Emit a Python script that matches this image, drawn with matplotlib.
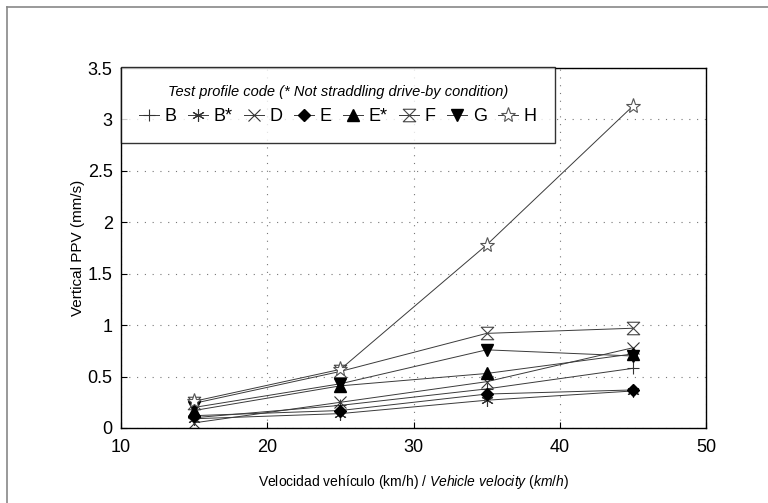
import matplotlib.pyplot as plt
from matplotlib.path import Path
from matplotlib.lines import Line2D

plt.rcParams["font.family"] = ["Liberation Sans", "DejaVu Sans"]
plt.rcParams["mathtext.fontset"] = "custom"
plt.rcParams["mathtext.it"] = "Liberation Sans:italic"
plt.rcParams["mathtext.rm"] = "Liberation Sans"

speeds = [15, 25, 35, 45]
codes = ["B", "B*", "D", "E", "E*", "F", "G", "H"]
ppv_B = [0.10, 0.22, 0.38, 0.58]
ppv_Bs = [0.09, 0.14, 0.27, 0.36]
ppv_D = [0.05, 0.25, 0.45, 0.78]
ppv_E = [0.12, 0.17, 0.33, 0.37]
ppv_Es = [0.17, 0.41, 0.53, 0.72]
ppv_F = [0.24, 0.55, 0.92, 0.97]
ppv_G = [0.20, 0.43, 0.76, 0.70]
ppv_H = [0.26, 0.57, 1.78, 3.13]
series = [ppv_B, ppv_Bs, ppv_D, ppv_E, ppv_Es, ppv_F, ppv_G, ppv_H]

xticks = [10, 20, 30, 40, 50]
yticks = [0, 0.5, 1, 1.5, 2, 2.5, 3, 3.5]
ytick_labels = ["0", "0.5", "1", "1.5", "2", "2.5", "3", "3.5"]

hourglass = Path([(-1, 1), (1, 1), (-1, -1), (1, -1), (-1, 1)],
                 [Path.MOVETO, Path.LINETO, Path.LINETO, Path.LINETO, Path.CLOSEPOLY])

styles = [
    dict(marker="+", ms=9, mfc="none", mec="#333333", mew=0.8),
    dict(marker=(6, 2, 0), ms=9, mfc="none", mec="#333333", mew=0.8),
    dict(marker="x", ms=8, mfc="none", mec="#333333", mew=0.8),
    dict(marker="D", ms=6, mfc="black", mec="black"),
    dict(marker="^", ms=8, mfc="black", mec="black"),
    dict(marker=hourglass, ms=9, mfc="white", mec="#444444", mew=0.8),
    dict(marker="v", ms=8, mfc="black", mec="black"),
    dict(marker="*", ms=11, mfc="white", mec="#555555", mew=0.8),
]

fig = plt.figure(figsize=(7.68, 5.03), dpi=100)
ax = fig.add_axes([121 / 768, 75 / 503, 585 / 768, 360 / 503])

# outer frame (left and top edges visible)
fig.add_artist(Line2D([7 / 768, 7 / 768], [0, 1 - 7 / 503], transform=fig.transFigure,
                      color="#888888", lw=1.2))
fig.add_artist(Line2D([7 / 768, 1], [1 - 7 / 503, 1 - 7 / 503], transform=fig.transFigure,
                      color="#888888", lw=1.2))

for code, vals, st in zip(codes, series, styles):
    ax.plot(speeds, vals, color="#3a3a3a", lw=0.7, label=code, **st)

ax.set_xlim(10, 50)
ax.set_ylim(0, 3.5)
ax.set_xticks(xticks)
ax.set_yticks(yticks)
ax.set_yticklabels(ytick_labels)
ax.tick_params(direction="in", length=4, labelsize=13, width=0.8)
ax.tick_params(axis="x", pad=8)
ax.tick_params(axis="y", pad=6)
ax.grid(True, linestyle=(0, (1, 6)), color="#777777", lw=0.8)
for sp in ax.spines.values():
    sp.set_linewidth(1.0)

ax.set_ylabel("Vertical PPV (mm/s)", fontsize=11, labelpad=2)
ax.set_xlabel(r"Velocidad vehículo (km/h) / $\it{Vehicle\ velocity\ (km/h)}$",
              fontsize=10, labelpad=12)

leg = ax.legend(loc="upper left", bbox_to_anchor=(0.0, 1.003), ncol=8,
                title="Test profile code (* Not straddling drive-by condition)",
                title_fontproperties={"style": "italic", "size": 10.5},
                fontsize=13, frameon=True, fancybox=False, edgecolor="black",
                handlelength=1.1, handletextpad=0.3, columnspacing=0.65,
                borderpad=1.0, borderaxespad=0.0)
leg.get_frame().set_linewidth(1.0)

fig.savefig("out.png", dpi=100)
